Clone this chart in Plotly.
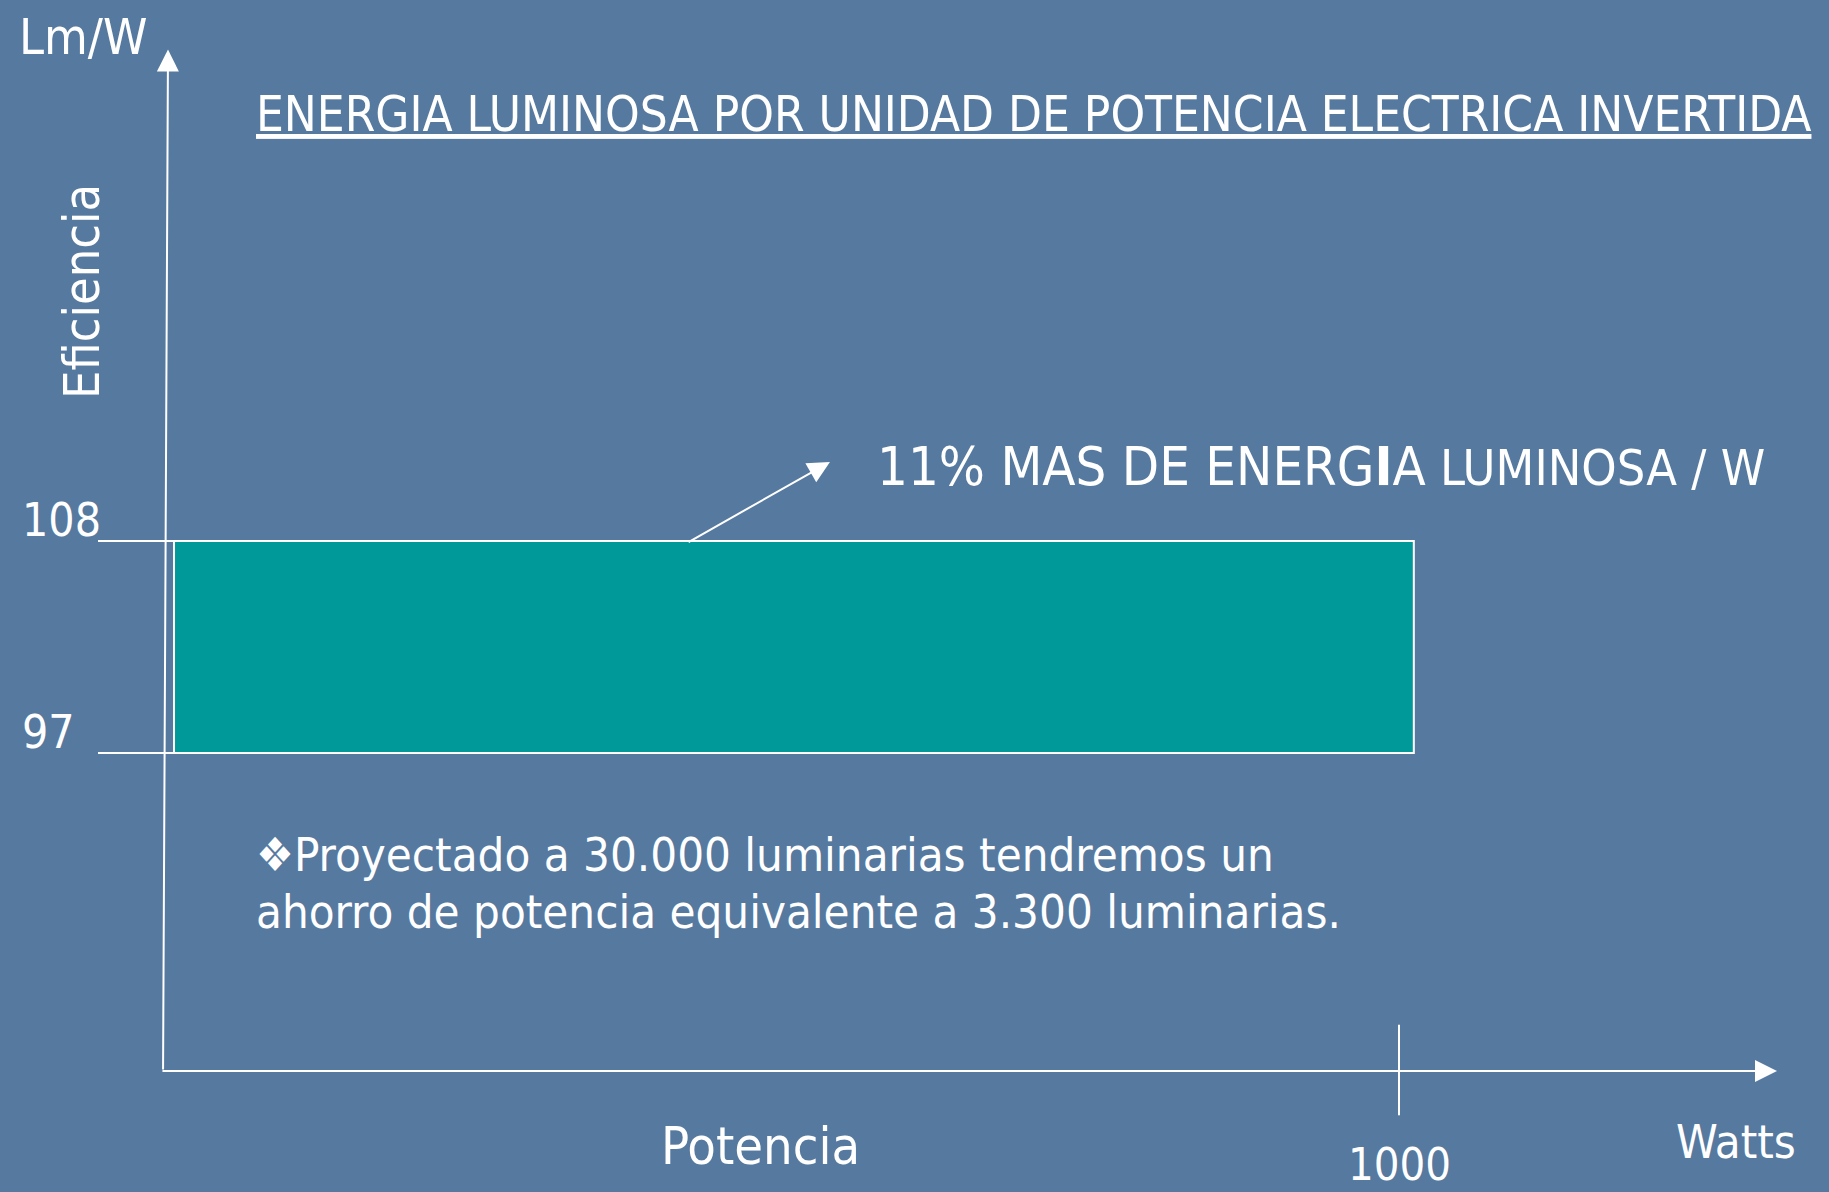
import plotly.graph_objects as go

# ---------------- data ----------------
efficiency_levels = [97, 108]          # Lm/W
power_tick = [1000]                    # Watts
bar_power = [5.7, 1012]                # extent of the bar along the power axis
y_tick_labels = ["97", "108"]
x_tick_labels = ["1000"]
title_text = "ENERGIA LUMINOSA POR UNIDAD DE POTENCIA ELECTRICA INVERTIDA"
gain_text_big = "11% MAS DE ENERG<b>I</b>A"
gain_text_small = " LUMINOSA / W"
note_lines = ["❖Proyectado a 30.000 luminarias tendremos un",
              "ahorro de potencia equivalente a 3.300 luminarias."]

# ---------------- layout constants ----------------
W, H = 1829, 1192
X_RANGE = [-135.55, 1349.0]
Y_RANGE = [74.22, 136.07]
X_AXIS_Y = 80.5      # data y where the power axis sits
Y_AXIS_TOP = 133.5
X_AXIS_END = 1306.8
BG = "#56799f"
TEAL = "#009999"
FONT = "DejaVu Sans Condensed, DejaVu Sans, sans-serif"
WHITE = "white"

fig = go.Figure()

# bar (rectangle between the two efficiency levels)
lo, hi = min(efficiency_levels), max(efficiency_levels)
fig.add_trace(go.Scatter(
    x=[bar_power[0], bar_power[1], bar_power[1], bar_power[0], bar_power[0]],
    y=[lo, lo, hi, hi, lo],
    mode="lines", fill="toself", fillcolor=TEAL,
    line=dict(color=WHITE, width=2), hoverinfo="skip", showlegend=False))

# horizontal guide lines at each level
for lvl in efficiency_levels:
    fig.add_trace(go.Scatter(x=[-56, bar_power[0]], y=[lvl, lvl], mode="lines",
                             line=dict(color=WHITE, width=2), hoverinfo="skip",
                             showlegend=False))

# tick mark at 1000 W
for p in power_tick:
    fig.add_trace(go.Scatter(x=[p, p], y=[78.2, 82.9], mode="lines",
                             line=dict(color=WHITE, width=2), hoverinfo="skip",
                             showlegend=False))

ann = []
# y axis arrow (slightly tilted as in the original slide)
ann.append(dict(x=0.8, y=Y_AXIS_TOP, ax=-3.2, ay=X_AXIS_Y, xref="x", yref="y",
                axref="x", ayref="y", showarrow=True, arrowhead=2, arrowsize=2.2,
                arrowwidth=2, arrowcolor=WHITE, text=""))
# x axis arrow
ann.append(dict(x=X_AXIS_END, y=X_AXIS_Y, ax=-4.9, ay=X_AXIS_Y, xref="x", yref="y",
                axref="x", ayref="y", showarrow=True, arrowhead=2, arrowsize=2.2,
                arrowwidth=2, arrowcolor=WHITE, text=""))
# pointer arrow
ann.append(dict(x=538.1, y=112.1, ax=422.1, ay=107.9, xref="x", yref="y",
                axref="x", ayref="y", showarrow=True, arrowhead=2, arrowsize=2.2,
                arrowwidth=2, arrowcolor=WHITE, text=""))

def ptext(text, px, py, size, xanchor="center", yanchor="middle", angle=0):
    return dict(text=text, x=px / W, y=1 - py / H, xref="paper", yref="paper",
                xanchor=xanchor, yanchor=yanchor, showarrow=False, textangle=angle,
                font=dict(family=FONT, size=size, color=WHITE))

# y tick labels
for lvl, lab in zip(efficiency_levels, y_tick_labels):
    ann.append(dict(text=lab, x=20 / W, y=lvl, xref="paper", yref="y",
                    xanchor="left", yanchor="middle", yshift=21, showarrow=False,
                    font=dict(family=FONT, size=46, color=WHITE)))
# x tick label (kept fully inside the bottom edge)
for p, lab in zip(power_tick, x_tick_labels):
    ann.append(dict(text=lab, x=p, y=0, xref="x", yref="paper",
                    xanchor="center", yanchor="bottom", showarrow=False,
                    borderpad=0,
                    font=dict(family=FONT, size=45, color=WHITE)))

ann.append(ptext("Lm/W", 83, 37, 50))
ann.append(ptext("<u>" + title_text + "</u>", 254, 114, 49, xanchor="left"))
ann.append(ptext("Eficiencia", 82, 292, 50, angle=-90))
ann.append(ptext(gain_text_big + "<span style='font-size:50px'>" + gain_text_small + "</span>",
                 875, 466, 54, xanchor="left"))
for i, line in enumerate(note_lines):
    ann.append(ptext(line, 254, 855 + 56 * i, 47, xanchor="left"))
ann.append(ptext("Potencia", 760, 1146, 52))
ann.append(ptext("Watts", 1736, 1141, 47))

fig.update_layout(
    width=W, height=H, margin=dict(l=0, r=0, t=0, b=0),
    paper_bgcolor=BG, plot_bgcolor=BG,
    xaxis=dict(range=X_RANGE, visible=False, fixedrange=True),
    yaxis=dict(range=Y_RANGE, visible=False, fixedrange=True),
    annotations=ann, showlegend=False)

fig.write_html(
    "out.html",
    config={"displayModeBar": False},
    post_script="document.body.style.margin='0';document.body.style.overflow='hidden';"
                "document.body.style.background='" + BG + "';")
